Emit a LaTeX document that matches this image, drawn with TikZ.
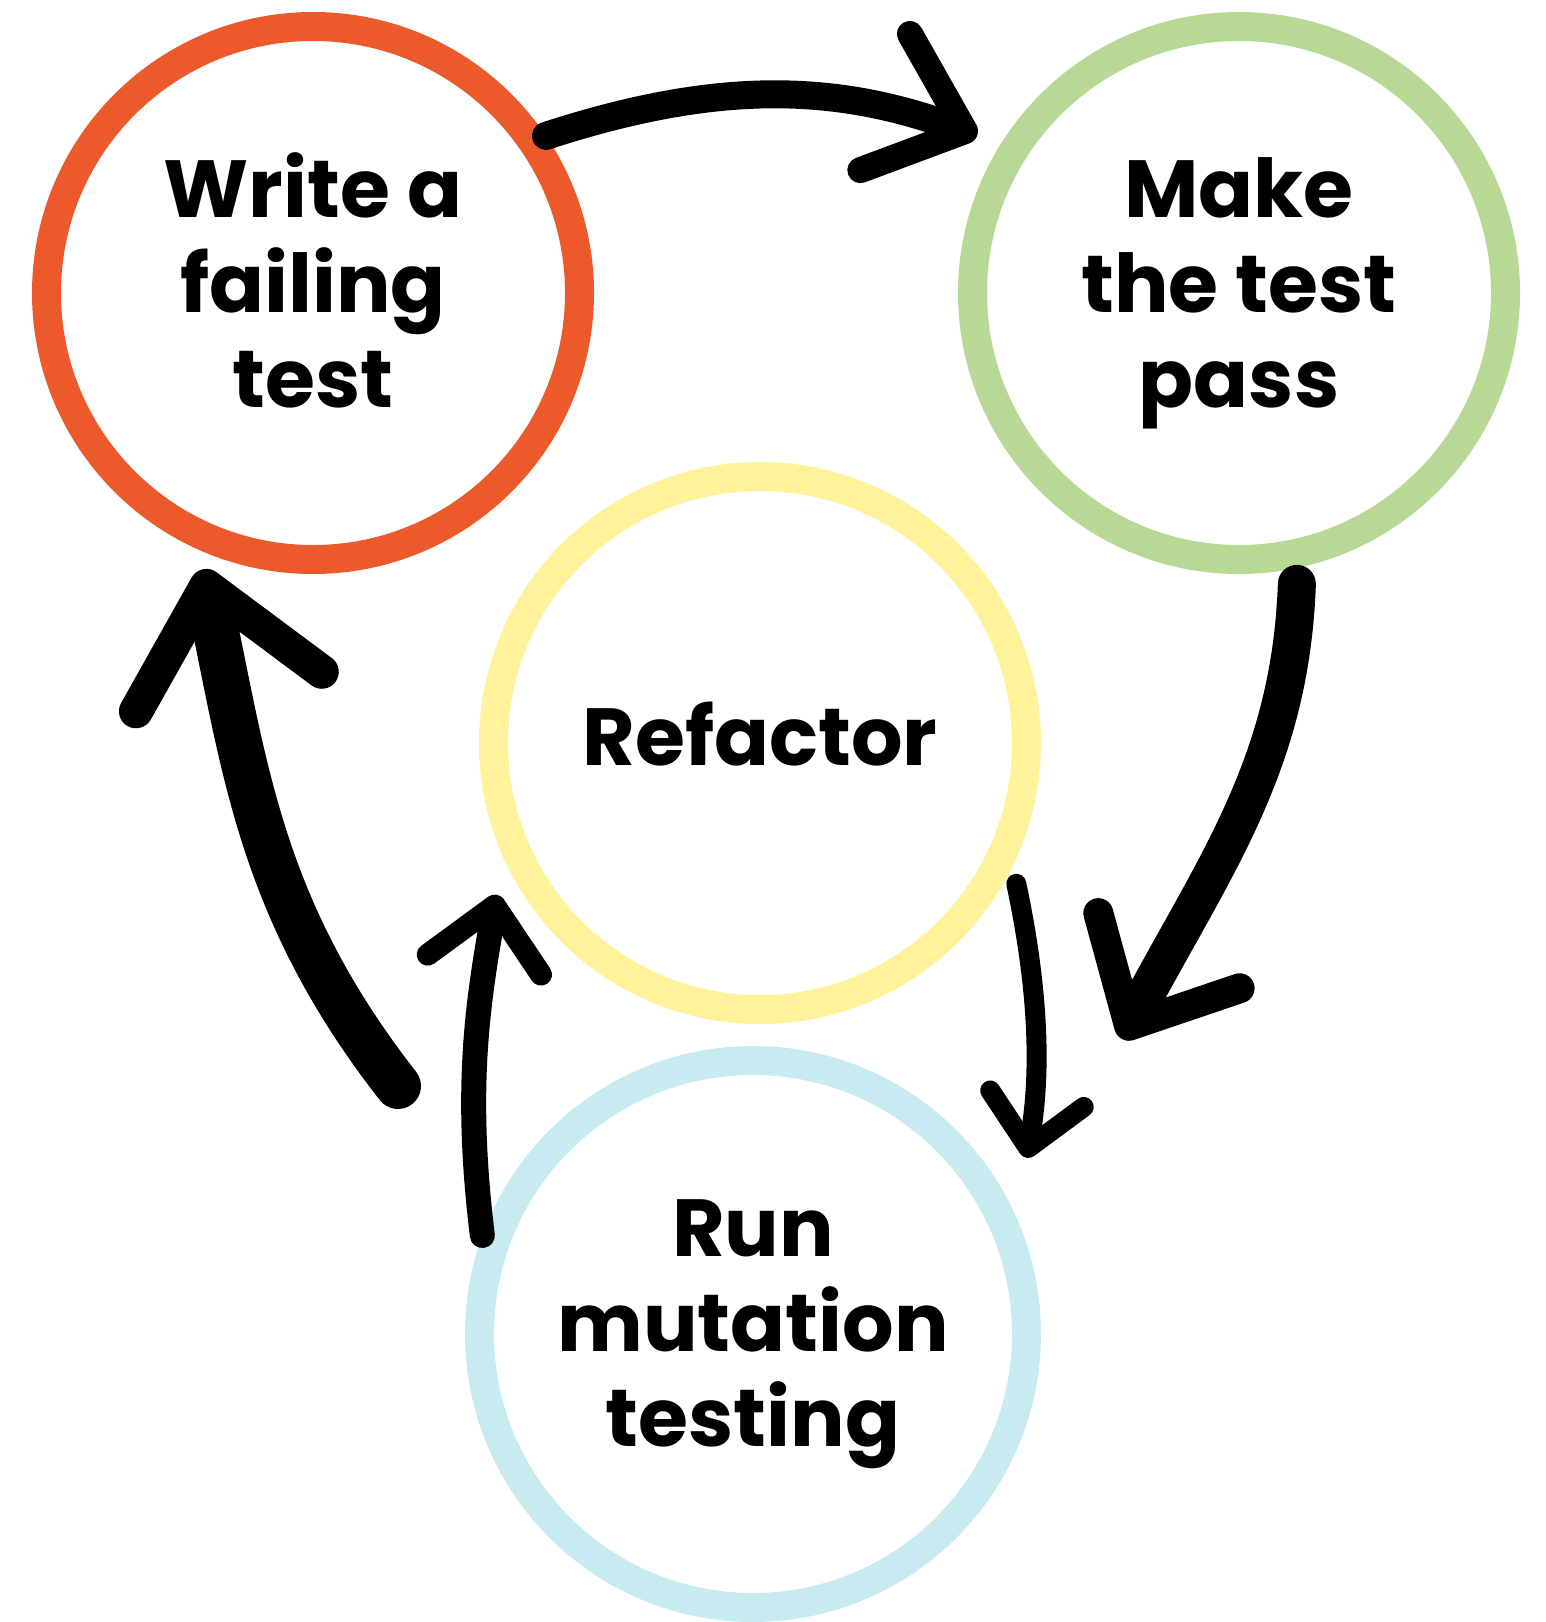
\documentclass[tikz,border=0pt]{standalone}
\usepackage{fontspec}
\setmainfont{Poppins}
\usetikzlibrary{arrows.meta}

\definecolor{tddred}{HTML}{EC5A2C}
\definecolor{tddgreen}{HTML}{B8D995}
\definecolor{tddyellow}{HTML}{FFF29B}
\definecolor{tddblue}{HTML}{C8EAF1}

\begin{document}
\begin{tikzpicture}[x=1pt,y=-1pt,node distance=926pt,
                    ring node/.style={circle,draw,line width=29pt,minimum size=533pt,align=center,
                                      font=\fontsize{81}{95}\selectfont\bfseries},
                    brush/.style={draw=black,line cap=round,line join=round}]
\useasboundingbox (0,0) rectangle (1545,1622);

\node[ring node,draw=tddred,text depth=26pt] (1) at (313,293) {Write a\\failing\\test};
\node[ring node,draw=tddgreen] (2) [right of=1] {Make\\the test\\pass};
\node[ring node,draw=tddyellow,text depth=18pt] (3) at (760,743) {Refactor};
\node[ring node,draw=tddblue,minimum size=547pt] (4) at (753,1334) {Run\\mutation\\testing};

% loose ends of the two long strokes
\coordinate (t1) at (398,1086);
\coordinate (h2) at (1122,1039);

\draw[brush,line width=28pt,-{Straight Barb[length=85pt,width=145pt,line width=26pt,round]},shorten >=25pt]
  (1.34) to[out=18,in=160] (2.148);
\draw[brush,line width=38pt,-{Straight Barb[length=85pt,width=160pt,line width=30pt,round]},shorten <=16pt]
  (2.-78) to[out=-92,in=62] (h2);
\draw[brush,line width=20pt,-{Straight Barb[length=50pt,width=95pt,line width=20pt,round]},shorten <=18pt,shorten >=60pt]
  (3.-26) to[out=-78,in=80] (4.24);
\draw[brush,line width=25pt,-{Straight Barb[length=60pt,width=115pt,line width=22pt,round]},shorten >=38pt]
  (4.160) to[out=97,in=-100] (3.204);
\draw[brush,line width=46pt,-{Straight Barb[length=108pt,width=190pt,line width=34pt,round]},shorten >=20pt]
  (t1) to[out=128,in=-78] (1.246);

\end{tikzpicture}
\end{document}
